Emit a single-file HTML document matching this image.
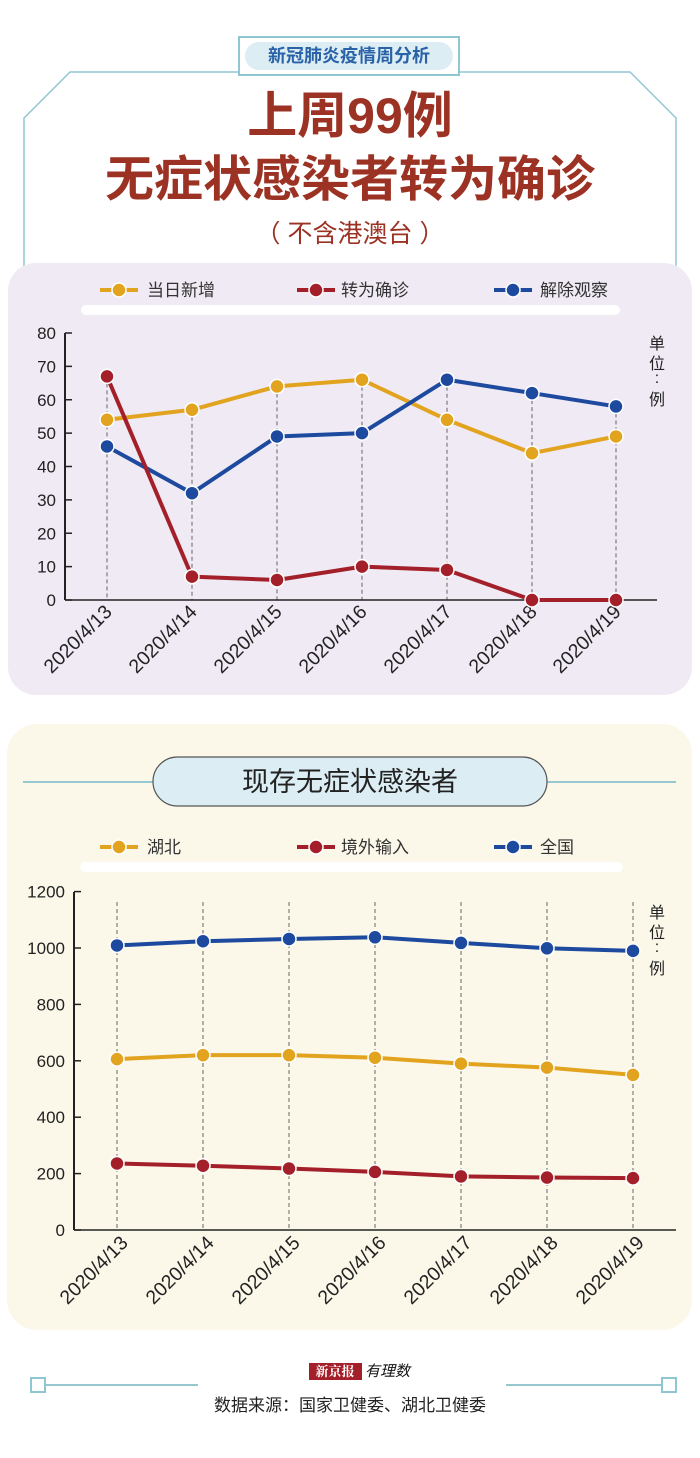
<!DOCTYPE html>
<html><head><meta charset="utf-8">
<style>
html,body{margin:0;padding:0;background:#fff;width:700px;height:1458px;overflow:hidden}
svg{display:block}
text{font-family:"Liberation Sans","Noto Sans CJK SC",sans-serif}
</style></head><body>
<svg id="s" width="700" height="1458" viewBox="0 0 700 1458" xmlns="http://www.w3.org/2000/svg">
<polyline points="24,275 24,118 70,72 240,72" fill="none" stroke="#8fc6d2" stroke-width="1.5"/>
<polyline points="676,275 676,118 630,72 460,72" fill="none" stroke="#8fc6d2" stroke-width="1.5"/>
<rect x="239" y="37" width="220" height="38" fill="#fff" stroke="#8fc6d2" stroke-width="2"/>
<rect x="245" y="42" width="208" height="28" rx="14" fill="#dcedf4"/>
<text x="349" y="62" text-anchor="middle" font-size="18" font-weight="bold" fill="#2a62a8">新冠肺炎疫情周分析</text>
<text x="350" y="133" text-anchor="middle" font-size="50" font-weight="bold" fill="#9b3224">上周99例</text>
<text x="350" y="196" text-anchor="middle" font-size="49" font-weight="bold" fill="#9b3224">无症状感染者转为确诊</text>
<text x="350" y="242" text-anchor="middle" font-size="25" fill="#9b3224" xml:space="preserve">（ 不含港澳台 ）</text>
<rect x="8" y="263" width="684" height="432" rx="28" fill="#efeaf3"/>
<rect x="81" y="305" width="539" height="10" rx="5" fill="#fff"/>
<rect x="7" y="724" width="685" height="606" rx="30" fill="#fbf8ea"/>
<line x1="23" y1="782" x2="676" y2="782" stroke="#95c8cf" stroke-width="2"/>
<rect x="153" y="757" width="394" height="49" rx="24.5" fill="#dcedf4" stroke="#555" stroke-width="1.2"/>
<text x="350" y="791" text-anchor="middle" font-size="27" fill="#222">现存无症状感染者</text>
<rect x="80" y="862" width="543" height="10" rx="5" fill="#fff"/>
<line x1="45" y1="1385" x2="198" y2="1385" stroke="#95c8cf" stroke-width="2"/>
<line x1="506" y1="1385" x2="662" y2="1385" stroke="#95c8cf" stroke-width="2"/>
<rect x="31" y="1378" width="14" height="14" fill="#fff" stroke="#8fc6d2" stroke-width="2"/>
<rect x="662" y="1378" width="14" height="14" fill="#fff" stroke="#8fc6d2" stroke-width="2"/>
<rect x="309" y="1363" width="53" height="17" fill="#a3202a"/>
<text x="335" y="1376" text-anchor="middle" font-size="13" font-weight="bold" fill="#fff" style="font-family:'Noto Serif CJK SC',serif">新京报</text>
<text x="365" y="1376" font-size="15" font-style="italic" fill="#111">有理数</text>
<text x="350" y="1411" text-anchor="middle" font-size="17" fill="#222">数据来源：国家卫健委、湖北卫健委</text>
<g id="g"></g>
</svg>
<script>
var g=document.getElementById('g'),h='';
var Y='#e2a31f',R='#a3202a',B='#1d4a9e';
var dates=['2020/4/13','2020/4/14','2020/4/15','2020/4/16','2020/4/17','2020/4/18','2020/4/19'];
function legend(y,names){
 var xs=[[100,147],[297,341],[494,540]],c=[Y,R,B];
 for(var i=0;i<3;i++){
  var x=xs[i][0];
  h+='<line x1="'+x+'" y1="'+y+'" x2="'+(x+38)+'" y2="'+y+'" stroke="'+c[i]+'" stroke-width="4"/>';
  h+='<circle cx="'+(x+19)+'" cy="'+y+'" r="7" fill="'+c[i]+'" stroke="#fff" stroke-width="1.5"/>';
  h+='<text x="'+xs[i][1]+'" y="'+(y+6)+'" font-size="17" fill="#333">'+names[i]+'</text>';
 }
}
function chart(o){
 var ax=o.ax,y0=o.y0,sc=o.sc;
 o.xs.forEach(function(x,i){
  var top=o.dtop!==undefined?o.dtop:Math.min.apply(null,o.series.map(function(s){return y0-s[1][i]*sc}));
  h+='<line x1="'+x+'" y1="'+top+'" x2="'+x+'" y2="'+y0+'" stroke="#666" stroke-width="1" stroke-dasharray="4,3"/>';
  h+='<text transform="translate('+(x+o.lx)+','+(y0+o.ly)+') rotate(-45)" text-anchor="end" font-size="19.5" fill="#222">'+dates[i]+'</text>';
 });
 h+='<line x1="'+ax+'" y1="'+o.ytop+'" x2="'+ax+'" y2="'+y0+'" stroke="#222" stroke-width="2"/>';
 h+='<line x1="'+ax+'" y1="'+y0+'" x2="'+o.axEnd+'" y2="'+y0+'" stroke="#222" stroke-width="1.5"/>';
 o.ticks.forEach(function(v){
  var y=y0-v*sc;
  h+='<line x1="'+ax+'" y1="'+y+'" x2="'+(ax+7)+'" y2="'+y+'" stroke="#222" stroke-width="1.5"/>';
  h+='<text x="'+(ax-9)+'" y="'+(y+6)+'" text-anchor="end" font-size="17" fill="#222">'+v+'</text>';
 });
 o.series.forEach(function(s){
  var pts=o.xs.map(function(x,i){return x+','+(y0-s[1][i]*sc)}).join(' ');
  h+='<polyline points="'+pts+'" fill="none" stroke="'+s[0]+'" stroke-width="4" stroke-linejoin="round"/>';
 });
 o.series.forEach(function(s){
  o.xs.forEach(function(x,i){h+='<circle cx="'+x+'" cy="'+(y0-s[1][i]*sc)+'" r="7" fill="'+s[0]+'" stroke="#fff" stroke-width="1.5"/>';});
 });
 h+='<text x="'+o.ux+'" y="'+o.uy+'" text-anchor="middle" font-size="16" fill="#222">单</text>';
 h+='<text x="'+o.ux+'" y="'+(o.uy+20)+'" text-anchor="middle" font-size="16" fill="#222">位</text>';
 h+='<text x="'+o.ux+'" y="'+(o.uy+34)+'" text-anchor="middle" font-size="16" fill="#222">:</text>';
 h+='<text x="'+o.ux+'" y="'+(o.uy+56)+'" text-anchor="middle" font-size="16" fill="#222">例</text>';
}
legend(290,['当日新增','转为确诊','解除观察']);
legend(847,['湖北','境外输入','全国']);
chart({ax:65,y0:600,sc:3.3375,ytop:333,axEnd:657,xs:[107,192,277,362,447,532,616],lx:6,ly:13,
 ticks:[0,10,20,30,40,50,60,70,80],ux:657,uy:349,
 series:[[Y,[54,57,64,66,54,44,49]],[B,[46,32,49,50,66,62,58]],[R,[67,7,6,10,9,0,0]]]});
chart({ax:74,y0:1230,sc:0.282,ytop:892,axEnd:676,xs:[117,203,289,375,461,547,633],lx:12,ly:14,dtop:902,
 ticks:[0,200,400,600,800,1000,1200],ux:657,uy:918,
 series:[[Y,[606,620,620,611,590,576,550]],[R,[236,228,218,206,190,186,184]],[B,[1009,1024,1032,1038,1018,999,990]]]});
g.innerHTML=h;
</script>
</body></html>
